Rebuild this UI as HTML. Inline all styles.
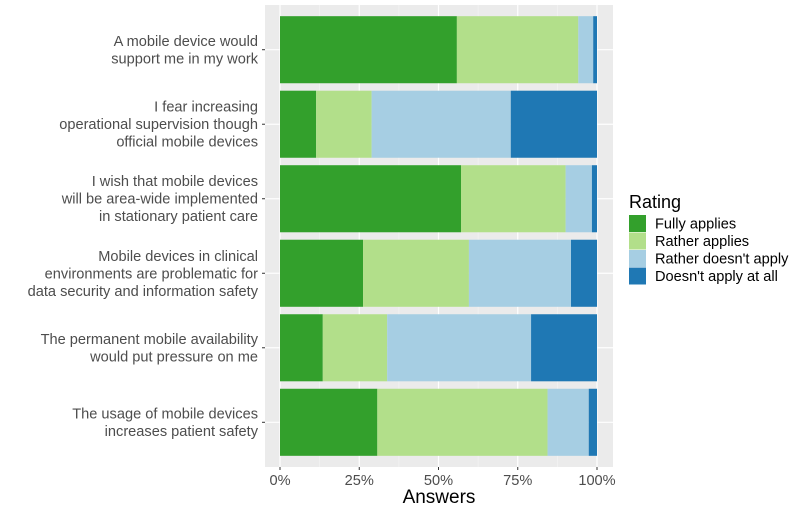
<!DOCTYPE html>
<html><head><meta charset="utf-8"><style>
body{margin:0;background:#fff;font-family:"Liberation Sans",Arial,sans-serif}
svg text{font-family:"Liberation Sans",Arial,sans-serif}
</style></head><body>
<svg id="chart" width="800" height="513"></svg>
<script>
const categories=[
 ["A mobile device would","support me in my work"],
 ["I fear increasing","operational supervision though","official mobile devices"],
 ["I wish that mobile devices","will be area-wide implemented","in stationary patient care"],
 ["Mobile devices in clinical","environments are problematic for","data security and information safety"],
 ["The permanent mobile availability","would put pressure on me"],
 ["The usage of mobile devices","increases patient safety"]];
const seriesNames=["Fully applies","Rather applies","Rather doesn't apply","Doesn't apply at all"];
const fullyApplies=[55.8,11.4,57.1,26.2,13.5,30.7];
const ratherApplies=[38.3,17.5,33.0,33.4,20.3,53.7];
const ratherNotApply=[4.7,43.9,8.3,32.2,45.4,13.0];
const notApplyAtAll=[1.2,27.2,1.6,8.2,20.8,2.6];
const xTicks=[0,25,50,75,100];
const xTickLabels=["0%","25%","50%","75%","100%"];
const colors=["#33a02c","#b2df8a","#a6cee3","#1f78b4"];
const series=[fullyApplies,ratherApplies,ratherNotApply,notApplyAtAll];

const NS="http://www.w3.org/2000/svg";
const svg=document.getElementById("chart");
function mk(t,a,p){const e=document.createElementNS(NS,t);for(const k in a)e.setAttribute(k,a[k]);(p||svg).appendChild(e);return e;}
const PL=265,PR=613,PT=5,PB=467,X0=280,X1=597;
const x=v=>X0+(X1-X0)*v/100;
const band=(PB-PT)/(categories.length+0.2);
const yc=i=>PT+band*(i+0.6);
const bh=band*0.9;
const panel=mk("rect",{x:PL,y:PT,width:PR-PL,height:PB-PT,fill:"#ebebeb"});


for(let i=0;i<4;i++){const l=mk("line",{x1:x(12.5+25*i),x2:x(12.5+25*i),y1:PT,y2:PB,stroke:"#f5f5f5","stroke-width":0.6});

}
xTicks.forEach(t=>{const l=mk("line",{x1:x(t),x2:x(t),y1:PT,y2:PB,stroke:"#fff","stroke-width":1.2});

});
categories.forEach((c,i)=>{const l=mk("line",{x1:PL,x2:PR,y1:yc(i),y2:yc(i),stroke:"#fff","stroke-width":1.2});

});
categories.forEach((c,i)=>{let acc=0;
 series.forEach((s,j)=>{const r=mk("rect",{x:x(acc),y:yc(i)-bh/2,width:x(acc+s[i])-x(acc),height:bh,fill:colors[j]});
 
 
 acc+=s[i];});
 const tk=mk("line",{x1:PL-3,x2:PL,y1:yc(i),y2:yc(i),stroke:"#333"});
 
 
 const n=c.length;
 c.forEach((ln,k)=>{const t=mk("text",{x:PL-7,y:yc(i)+(k-(n-1)/2)*17.5+5,"text-anchor":"end","font-size":14.6,fill:"#4d4d4d"});
 t.textContent=ln;
 
 });
});
xTicks.forEach((t,i)=>{const l=mk("line",{x1:x(t),x2:x(t),y1:PB,y2:PB+3,stroke:"#333"});
 
 
 const tx=mk("text",{x:x(t),y:485,"text-anchor":"middle","font-size":14.6,fill:"#4d4d4d"});
 tx.textContent=xTickLabels[i];
 
 });
const xt=mk("text",{x:(PL+PR)/2,y:503,"text-anchor":"middle","font-size":19,fill:"#000"});
xt.textContent="Answers";


const lt=mk("text",{x:629,y:208,"font-size":18,fill:"#000"});
lt.textContent="Rating";


seriesNames.forEach((s,j)=>{const g=mk("g",{});
 
 
 mk("rect",{x:629,y:215+j*17.5,width:17,height:17,fill:colors[j]},g);
 const t=mk("text",{x:655,y:228.5+j*17.5,"font-size":14.6,fill:"#000"},g);t.textContent=s;});
</script>
</body></html>
